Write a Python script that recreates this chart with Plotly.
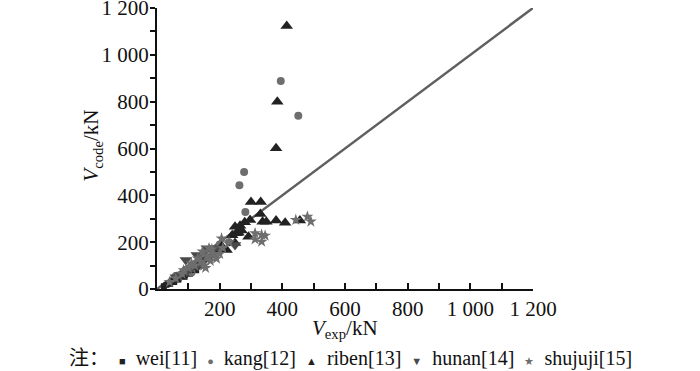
import plotly.graph_objects as go

# ---- data ----
wei_x = [22, 30, 35, 42, 48, 55, 60, 68, 75, 80, 88, 95, 105, 115, 125, 140]
wei_y = [12, 18, 25, 22, 35, 30, 45, 40, 55, 60, 52, 70, 65, 85, 80, 100]

kang_x = [395, 451, 278, 263, 282, 60, 90, 120, 150, 180, 200, 230, 110, 140]
kang_y = [888, 740, 500, 443, 329, 55, 80, 100, 130, 160, 190, 200, 70, 110]

riben_x = [414, 384, 380, 300, 331, 249, 260, 270, 280, 297, 337, 349, 380, 409, 456,
           292, 222, 207, 249, 254, 265, 330, 190, 160, 140, 120, 100, 80, 60, 240]
riben_y = [1123, 800, 601, 371, 371, 266, 240, 250, 285, 295, 287, 287, 292, 283, 292,
           223, 167, 181, 196, 238, 270, 320, 160, 130, 110, 95, 80, 60, 45, 230]

hunan_x = [92, 127, 159, 249, 182, 130, 110, 150, 170, 75, 60, 200, 140, 95]
hunan_y = [124, 145, 174, 188, 174, 100, 90, 120, 140, 60, 50, 170, 125, 75]

shujuji_x = [443, 480, 491, 313, 334, 345, 334, 313, 206, 40, 60, 80, 100, 120, 140, 150,
             160, 170, 180, 190, 175, 166, 200, 210, 130, 110, 145, 155, 85, 230]
shujuji_y = [295, 309, 288, 238, 231, 228, 202, 212, 216, 30, 45, 65, 90, 100, 115, 100,
             140, 120, 150, 130, 170, 174, 150, 175, 130, 110, 160, 90, 80, 200]

line_x = [0, 1200]
line_y = [0, 1200]

tick_vals = [0, 200, 400, 600, 800, 1000, 1200]
y_tick_text = ["0", "200", "400", "600", "800", "1 000", "1 200"]
x_tick_text = ["", "200", "400", "600", "800", "1 000", "1 200"]

names = ["wei[11]", "kang[12]", "riben[13]", "hunan[14]", "shujuji[15]"]
legend_glyphs = ["■", "●", "▲", "▼", "★"]

FONT = "Liberation Serif"
BLACK = "#222222"
GREY = "#6e6e6e"
DGREY = "#4a4a4a"
FS = 21

fig = go.Figure()

fig.add_trace(go.Scatter(x=line_x, y=line_y, mode="lines",
                         line=dict(color="#5f5f5f", width=2.5), showlegend=False,
                         hoverinfo="skip"))

series = [
    (wei_x, wei_y, "square", 6, BLACK),
    (kang_x, kang_y, "circle", 8, GREY),
    (riben_x, riben_y, "triangle-up", 11, BLACK),
    (hunan_x, hunan_y, "triangle-down", 11, DGREY),
    (shujuji_x, shujuji_y, "star", 9, GREY),
]

for (xs, ys, sym, sz, col), nm in zip(series, names):
    fig.add_trace(go.Scatter(x=xs, y=ys, mode="markers", name=nm,
                             marker=dict(symbol=sym, size=sz, color=col, line=dict(width=0)),
                             showlegend=False))

# legend line as text
parts = ['<span style="font-family:Noto Sans CJK SC">注：</span>']
for (xs, ys, sym, sz, col), nm, g in zip(series, names, legend_glyphs):
    parts.append(f'<span style="font-size:11px;color:{col}">{g}</span>&nbsp;&nbsp;{nm}')
legend_text = "&nbsp;&nbsp;".join(parts)

fig.add_annotation(text=legend_text, xref="paper", yref="paper",
                   x=0.515, y=-0.24, xanchor="center", yanchor="middle",
                   showarrow=False, font=dict(family=FONT, size=20, color="#111"))

# axis titles placed like the reference
fig.add_annotation(text="<i>V</i><sub>code</sub>/kN", xref="paper", yref="paper",
                   x=-0.173, y=0.51, xanchor="center", yanchor="middle", textangle=-90,
                   showarrow=False, font=dict(family=FONT, size=FS, color="#111"))
fig.add_annotation(text="<i>V</i><sub>exp</sub>/kN", xref="paper", yref="paper",
                   x=0.5, y=-0.09, xanchor="center", yanchor="top",
                   showarrow=False, font=dict(family=FONT, size=FS, color="#111"))

fig.update_layout(
    width=700, height=371,
    margin=dict(l=157, r=167, t=8, b=82),
    paper_bgcolor="white", plot_bgcolor="white",
    font=dict(family=FONT, size=FS, color="#111"),
    showlegend=False,
)

fig.update_xaxes(
    range=[0, 1200], showgrid=False, zeroline=False, automargin=False,
    showline=True, linecolor="#111", linewidth=2,
    tickmode="array", tickvals=tick_vals, ticktext=x_tick_text,
    ticks="inside", ticklen=6, tickwidth=1.5, tickcolor="#111",
    minor=dict(ticks="inside", ticklen=6, dtick=100, tick0=0, tickcolor="#111", tickwidth=1.5),
    tickfont=dict(size=FS, family=FONT), ticklabeloverflow="allow", ticklabelstandoff=0,
)
fig.update_yaxes(
    range=[0, 1200], showgrid=False, zeroline=False, automargin=False,
    showline=True, linecolor="#111", linewidth=2,
    tickmode="array", tickvals=tick_vals, ticktext=y_tick_text,
    ticks="outside", ticklen=5, tickwidth=1.5, tickcolor="#111",
    minor=dict(ticks="outside", ticklen=5, dtick=100, tick0=0, tickcolor="#111", tickwidth=1.5),
    tickfont=dict(size=FS, family=FONT), ticklabeloverflow="allow", ticklabelstandoff=-3,
)

fig.write_html("out.html", config={"displayModeBar": False},
               post_script="document.body.style.margin='0';")
